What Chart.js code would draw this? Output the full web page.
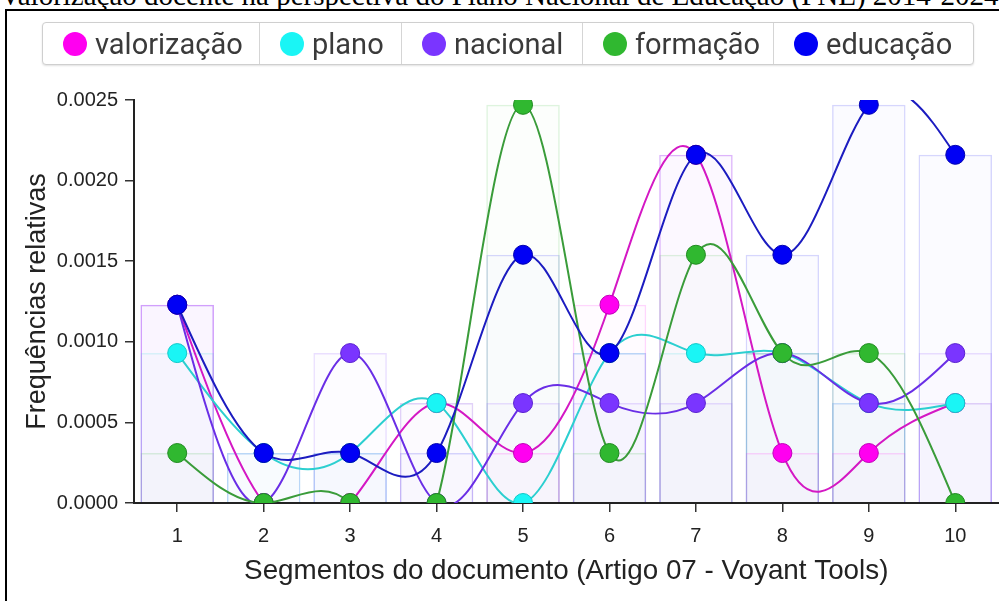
<!DOCTYPE html>
<html><head><meta charset="utf-8">
<script src="https://cdn.jsdelivr.net/npm/chart.js@4.4.0/dist/chart.umd.min.js"></script>
<style>
html,body{margin:0;padding:0;background:#fff;width:999px;height:601px;overflow:hidden;position:relative;}
#title{position:absolute;left:0px;top:-19px;font-family:'Liberation Serif',serif;font-size:29px;line-height:29px;white-space:nowrap;color:#000;}
#frame{position:absolute;left:5px;top:9px;width:1100px;height:700px;border:2px solid #000;box-sizing:border-box;}
#legend{position:absolute;left:42px;top:22px;height:43px;display:flex;border:1.5px solid #cfcfcf;border-radius:4px;box-shadow:0 1px 2px rgba(0,0,0,0.12);background:#fff;box-sizing:border-box;font-family:Roboto,sans-serif;font-size:29px;color:#3a3a3a;z-index:2;}
.item{display:flex;align-items:center;box-sizing:border-box;border-right:1.5px solid #d5d5d5;padding-left:20px;white-space:nowrap;}
.item:last-child{border-right:none;}
.dot{width:24px;height:24px;border-radius:50%;margin-right:8px;flex:none;}
#wrap{position:absolute;left:0;top:0;width:1009px;height:601px;}
</style></head>
<body>
<div id="title">Valorização docente na perspectiva do Plano Nacional de Educação (PNE) 2014-2024</div>
<div id="frame"></div>
<div id="legend"></div>
<div id="wrap"><canvas id="c" width="1009" height="601"></canvas></div>
<script>
// ---- data ----
const segments = ['1','2','3','4','5','6','7','8','9','10'];
const seriesNames = ['valorização','plano','nacional','formação','educação'];
const valorizacao = [0.00123, 0, 0, 0.00062, 0.00031, 0.00123, 0.00216, 0.00031, 0.00031, 0.00062];
const plano       = [0.00093, 0.00031, 0.00031, 0.00062, 0, 0.00093, 0.00093, 0.00093, 0.00062, 0.00062];
const nacional    = [0.00123, 0, 0.00093, 0, 0.00062, 0.00062, 0.00062, 0.00093, 0.00062, 0.00093];
const formacao    = [0.00031, 0, 0, 0, 0.00247, 0.00031, 0.00154, 0.00093, 0.00093, 0];
const educacao    = [0.00123, 0.00031, 0.00031, 0.00031, 0.00154, 0.00093, 0.00216, 0.00154, 0.00247, 0.00216];
const yTicks = [0, 0.0005, 0.0010, 0.0015, 0.0020, 0.0025];
const xTitle = 'Segmentos do documento (Artigo 07 - Voyant Tools)';
const yTitle = 'Frequências relativas';

const seriesValues = [valorizacao, plano, nacional, formacao, educacao];
// ---- styles ----
const pointColors = ['#ff00f0', '#1af5f5', '#7a35ff', '#30b830', '#0000f5'];
const lineColors  = ['#d418c4', '#2ccfd0', '#6a2ee6', '#3a9c3a', '#1c1cc0'];
const pointBorders= ['#c000b8', '#10c8c8', '#5a22d0', '#208a20', '#0000b0'];
const rgb = ['255,0,240','30,220,220','122,53,255','48,184,48','0,0,245'];
const legendWidths = [217,142,181,191,199];

// HTML legend
const leg = document.getElementById('legend');
seriesNames.forEach((n,i)=>{
  const it = document.createElement('div'); it.className='item'; it.style.width=legendWidths[i]+'px';
  const d = document.createElement('span'); d.className='dot'; d.style.background=pointColors[i];
  const t = document.createElement('span'); t.textContent=n;
  it.appendChild(d); it.appendChild(t); leg.appendChild(it);
});

// natural cubic spline through the points (as the original chart smooths its lines)
const naturalSpline = {
  id:'naturalSpline',
  beforeDatasetDraw(chart, args){
    const meta = args.meta;
    if (meta.type !== 'line') return;
    const pts = meta.data; const n = pts.length; if (n < 3) return;
    const y = pts.map(p=>p.y);
    const b = new Array(n).fill(4), r = new Array(n);
    b[0]=2; b[n-1]=2;
    r[0]=3*(y[1]-y[0]); r[n-1]=3*(y[n-1]-y[n-2]);
    for(let i=1;i<n-1;i++) r[i]=3*(y[i+1]-y[i-1]);
    const cp = new Array(n), dp = new Array(n);
    cp[0]=1/b[0]; dp[0]=r[0]/b[0];
    for(let i=1;i<n;i++){ const m=b[i]-cp[i-1]; cp[i]=1/m; dp[i]=(r[i]-dp[i-1])/m; }
    const D = new Array(n); D[n-1]=dp[n-1];
    for(let i=n-2;i>=0;i--) D[i]=dp[i]-cp[i]*D[i+1];
    for(let i=0;i<n;i++){
      const p=pts[i];
      const hPrev = i>0 ? p.x-pts[i-1].x : 0, hNext = i<n-1 ? pts[i+1].x-p.x : 0;
      p.cp1x = p.x - hPrev/3; p.cp1y = p.y - D[i]/3;
      p.cp2x = p.x + hNext/3; p.cp2y = p.y + D[i]/3;
    }
    meta.dataset._pointsUpdated = true;
    meta.dataset._path = undefined;
  }
};

const datasets = [];
seriesNames.forEach((n,i)=>{
  datasets.push({
    type:'line', label:n, data:seriesValues[i], order: 5-i,
    borderColor: lineColors[i], backgroundColor: pointColors[i],
    pointBackgroundColor: pointColors[i], pointBorderColor: pointBorders[i],
    borderWidth: 2, pointRadius: 9.5, pointBorderWidth: 1, fill:false,
    tension: 0.4
  });
});
seriesNames.forEach((n,i)=>{
  datasets.push({
    type:'bar', label:n+' bar', data:seriesValues[i], order: 10+i,
    backgroundColor:'rgba('+rgb[i]+',0.014)', borderColor:'rgba('+rgb[i]+',0.16)',
    borderWidth:1.5, grouped:false, barPercentage:0.85, categoryPercentage:1
  });
});

const tickFont = {family:'Liberation Sans', size:20};
new Chart(document.getElementById('c'), {
  type:'bar',
  data:{labels:segments, datasets},
  plugins:[naturalSpline],
  options:{
    responsive:false, animation:false, devicePixelRatio:1, events:[],
    layout:{padding:{left:7, top:100, right:1, bottom:0}},
    plugins:{legend:{display:false}, tooltip:{enabled:false}},
    elements:{line:{capBezierPoints:false}},
    scales:{
      x:{
        offset:true,
        grid:{offset:false, drawOnChartArea:false, drawTicks:true, tickLength:9, tickColor:'#333', lineWidth:1.5},
        border:{color:'#222', width:2},
        ticks:{font:tickFont, color:'#222', padding:12, maxRotation:0, autoSkip:false},
        title:{display:true, text:xTitle, color:'#222', font:{family:'Liberation Sans', size:27.8}, padding:{top:0,bottom:13}},
        afterFit(s){ s.height = 98; s.paddingLeft = 0; s.paddingRight = 0; }
      },
      y:{
        min:0, max:0.0025,
        afterBuildTicks(s){ s.ticks = yTicks.map(v=>({value:v})); },
        grid:{drawOnChartArea:false, drawTicks:true, tickLength:9, tickColor:'#333', lineWidth:1.5},
        border:{color:'#222', width:2},
        ticks:{font:tickFont, color:'#222', padding:7, callback:v=>Number(v).toFixed(4)},
        title:{display:true, text:yTitle, color:'#222', font:{family:'Liberation Sans', size:27}, padding:{top:14}},
        afterFit(s){ s.width = 127; }
      }
    }
  }
});
</script>
</body></html>
